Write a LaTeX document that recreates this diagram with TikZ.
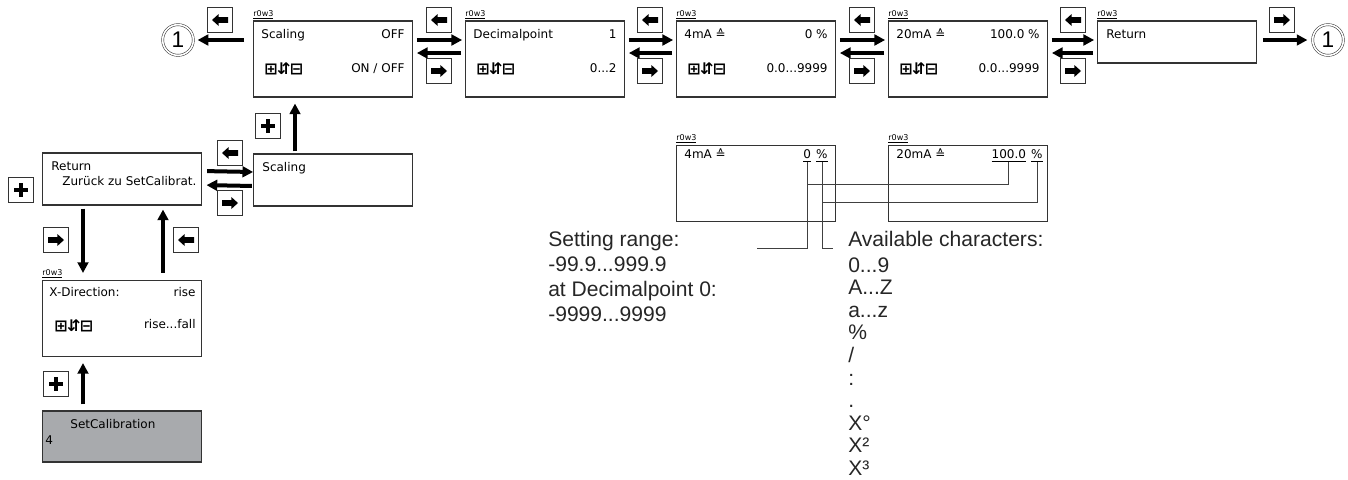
\documentclass[tikz,border=0pt]{standalone}
\usepackage{fontspec}
\setmainfont{DejaVu Sans}
\newfontfamily\helv{Liberation Sans}
\usepackage{tikz}
\usetikzlibrary{arrows.meta,positioning}
\newcommand{\pmkeys}{{\fontsize{12}{12}\selectfont\bfseries ⊞\kern-0.5pt⇵\kern-0.5pt⊟}}
\newcommand{\ddd}{...}
\definecolor{calgray}{RGB}{168,170,173}

\begin{document}
\begin{tikzpicture}[x=0.75pt,y=-0.75pt]
\tikzstyle{screen}=[rectangle, draw=black!80, line width=0.8pt, minimum width=119pt, minimum height=57pt, inner sep=0pt]
\tikzstyle{flat}=[screen, minimum height=39pt]
\tikzstyle{txt}=[inner sep=0pt, font=\fontsize{9}{11}\selectfont]
\tikzstyle{tag}=[inner sep=0pt, anchor=south west, font=\fontsize{6}{7}\selectfont]
\tikzstyle{big}=[inner sep=0pt, anchor=base west, text=black!85, font=\helv\fontsize{15.8}{19}\selectfont]
\tikzstyle{conn}=[line width=3pt, -{Triangle[length=8pt,width=8pt]}]
\tikzstyle{wire}=[draw=black!75, line width=0.6pt]
\tikzstyle{ring}=[circle, draw=black!80, double, double distance=1.2pt, minimum size=23pt, inner sep=0pt, font=\helv\fontsize{17}{17}\selectfont]
\tikzstyle{key}=[rectangle, draw=black!80, fill=white, line width=0.7pt, minimum size=19pt, inner sep=0pt]
\tikzstyle{keyl}=[key, path picture={\fill[black, shift={(path picture bounding box.center)}] (-6pt,0pt) -- (-1pt,4.5pt) -- (-1pt,2.2pt) -- (6pt,2.2pt) -- (6pt,-2.2pt) -- (-1pt,-2.2pt) -- (-1pt,-4.5pt) -- cycle;}]
\tikzstyle{keyr}=[key, path picture={\fill[black, shift={(path picture bounding box.center)}] (6pt,0pt) -- (1pt,4.5pt) -- (1pt,2.2pt) -- (-6pt,2.2pt) -- (-6pt,-2.2pt) -- (1pt,-2.2pt) -- (1pt,-4.5pt) -- cycle;}]
\tikzstyle{keyp}=[key, path picture={\draw[black, shift={(path picture bounding box.center)}, line width=2.3pt] (-5pt,0pt) -- (5pt,0pt) (0pt,-5pt) -- (0pt,5pt);}]

\useasboundingbox (0,0) rectangle (1348,479);

\node[screen] (scal) at (333,59) {};
\node[screen] (dec) at (545,59) {};
\node[screen] (ma4) at (756,59) {};
\node[screen] (ma20) at (968,59) {};
\node[screen, minimum height=31.5pt] (ret) at (1177,42) {};
\node[ring] (oneL) at (178,40) {1};
\node[ring] (oneR) at (1328,40) {1};

\foreach \s/\a/\b/\c in {scal/Scaling/OFF/{ON / OFF}, dec/Decimalpoint/1/{0\ddd{}2}, ma4/{4mA ≙}/{0 \%}/{0.0\ddd{}9999}, ma20/{20mA ≙}/{100.0 \%}/{0.0\ddd{}9999}} {
  \node[txt, anchor=base west] (\s A) at ([shift={(8,18)}]\s.north west) {\a};
  \node[txt, anchor=base east] (\s B) at ([shift={(-8,18)}]\s.north east) {\b};
  \node[txt, anchor=base west] (\s C) at ([shift={(11,54)}]\s.north west) {\pmkeys};
  \node[txt, anchor=base east] (\s D) at ([shift={(-8,52)}]\s.north east) {\c};
}
\node[txt, anchor=base west] (retA) at ([shift={(9,18)}]ret.north west) {Return};

\foreach \a/\b in {scal/dec, dec/ma4, ma4/ma20} {
  \draw[conn, shorten <=3pt, shorten >=2.25pt] ([yshift=14.25pt]\a.east) -- ([yshift=14.25pt]\b.west);
  \draw[conn, shorten <=3pt, shorten >=3pt] ([yshift=4.5pt]\b.west) -- ([yshift=4.5pt]\a.east);
}
\draw[conn, shorten <=3pt, shorten >=2.25pt] ([yshift=14.25pt]ma20.east) -- ([yshift=1.5pt]ret.west);
\draw[conn, shorten <=3pt, shorten >=3pt] ([yshift=-8.25pt]ret.west) -- ([yshift=4.5pt]ma20.east);
\draw[conn, shorten <=6.75pt, shorten >=3pt] ([yshift=14.25pt]scal.west) -- (oneL);
\draw[conn, shorten <=4.5pt, shorten >=3.75pt] ([yshift=1.5pt]ret.east) -- (oneR);

\foreach \x in {439,650,862,1073} {
  \node[keyl] (kl\x) at (\x,20) {};
  \node[keyr] (kr\x) at (\x,71) {};
}
\node[keyl] (kl0) at (220,20) {};
\node[keyr] (kr0) at (1282,20) {};

\node[flat] (back) at (122,179) {};
\node[flat] (scal2) at (333,180) {};
\node[screen] (xdir) at (122,318.5) {};
\node[flat, minimum height=38.25pt, fill=calgray] (cal) at (122,436.5) {};

\node[txt, anchor=base west] (backA) at ([shift={(9,18)}]back.north west) {Return};
\node[txt, anchor=base west] (backB) at ([shift={(20,33)}]back.north west) {Zurück zu SetCalibrat.};
\node[txt, anchor=base west] (scal2A) at ([shift={(9,18)}]scal2.north west) {Scaling};
\node[txt, anchor=base west] (xdirA) at ([shift={(7,17)}]xdir.north west) {X-Direction:};
\node[txt, anchor=base east] (xdirB) at ([shift={(-6,17)}]xdir.north east) {rise};
\node[txt, anchor=base west] (xdirC) at ([shift={(12,52)}]xdir.north west) {\pmkeys};
\node[txt, anchor=base east] (xdirD) at ([shift={(-6,49)}]xdir.north east) {rise...fall};
\node[txt, anchor=base west] (calA) at ([shift={(28,18)}]cal.north west) {SetCalibration};
\node[txt, anchor=base west] (calB) at ([shift={(3,34)}]cal.north west) {4};

\draw[conn, shorten <=4pt, shorten >=0pt] ([yshift=6pt]back.east) -- ([yshift=6pt]scal2.west);
\draw[conn, shorten <=1pt, shorten >=3.5pt] ([yshift=-4.5pt]scal2.west) -- ([yshift=-4.5pt]back.east);
\draw[conn, shorten <=1.5pt, shorten >=4.5pt] ([xshift=-28.5pt]scal2.north) -- ([xshift=-28.5pt]scal.south);
\draw[conn, shorten <=2.25pt, shorten >=5.25pt] ([xshift=-29.25pt]back.south) -- ([xshift=-29.25pt]xdir.north);
\draw[conn, shorten <=5.25pt, shorten >=3pt] ([xshift=30.75pt]xdir.north) -- ([xshift=30.75pt]back.south);
\draw[conn, shorten <=4.5pt, shorten >=4.5pt] ([xshift=-29.25pt]cal.north) -- ([xshift=-29.25pt]xdir.south);

\node[keyl] (kl2) at (230,153) {};
\node[keyr] (kr2) at (230,203) {};
\node[keyp] (kp1) at (268,126) {};
\node[keyp] (kp2) at (21,190) {};
\node[keyr] (kr3) at (56,240) {};
\node[keyl] (kl3) at (186,240) {};
\node[keyp] (kp3) at (56,384) {};

\node[screen] (lma4) at (756,183.5) {};
\node[screen] (lma20) at (968,183.5) {};
\node[txt, anchor=base west] (lma4A) at ([shift={(8,14)}]lma4.north west) {4mA ≙};
\node[txt, anchor=base east] (p4) at ([shift={(-8,14)}]lma4.north east) {\underline{\%}};
\node[txt, anchor=base east] (v4) at ([xshift=-3.5pt]p4.base west) {\underline{0}};
\node[txt, anchor=base west] (lma20A) at ([shift={(8,14)}]lma20.north west) {20mA ≙};
\node[txt, anchor=base east] (p20) at ([shift={(-5,14)}]lma20.north east) {\underline{\%}};
\node[txt, anchor=base east] (v20) at ([xshift=-3.5pt]p20.base west) {\underline{100.0}};

\foreach \b in {scal,dec,ma4,ma20,ret,xdir,lma4,lma20} {
  \node[tag] (tag\b) at ([yshift=1pt]\b.north west) {\underline{r0w3}};
}

\coordinate (endv) at (757,248);
\coordinate (endp) at (833,248);
\draw[wire] (v4.south) |- (endv);
\draw[wire] (p4.south) |- (endp);
\draw[wire] (v20.south) -- ++(0,22) -| (v4.south);
\draw[wire] (p20.south) -- ++(0,40) -| (p4.south);

\foreach \t [count=\i from 0] in {{Setting range:},{-99.9\ddd{}999.9},{at Decimalpoint 0:},{-9999\ddd{}9999}} {
  \node[big] (rng\i) at (548,{246+25*\i}) {\t};
}
\node[big] (chars) at (848,246) {Available characters:};
\foreach \t [count=\i from 0] in {{0\ddd{}9},{A\ddd{}Z},{a\ddd{}z},{\%},{/},{:},{.},{X°},{X²},{X³}} {
  \node[big] (ch\i) at (848,{272+22.6*\i}) {\t};
}
\end{tikzpicture}
\end{document}
